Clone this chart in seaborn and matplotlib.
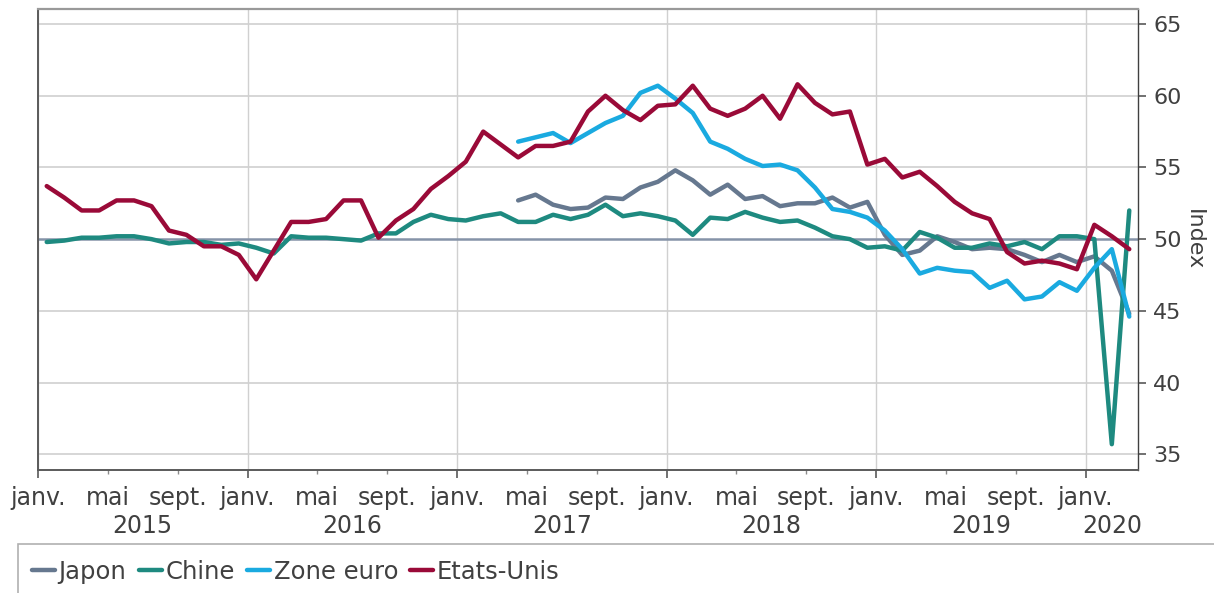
import numpy as np
import pandas as pd
import matplotlib
matplotlib.use("Agg")
import matplotlib.pyplot as plt
import seaborn as sns
from matplotlib.patches import Rectangle

# ---------------- data (monthly, Jan 2015 .. Mar 2020) ----------------
n_months = 63

etats_unis = [53.7, 52.9, 52.0, 52.0, 52.7, 52.7, 52.3, 50.6, 50.3, 49.5, 49.5, 48.9,
              47.2, 49.2, 51.2, 51.2, 51.4, 52.7, 52.7, 50.1, 51.3, 52.1, 53.5, 54.4,
              55.4, 57.5, 56.6, 55.7, 56.5, 56.5, 56.8, 58.9, 60.0, 59.0, 58.3, 59.3,
              59.4, 60.7, 59.1, 58.6, 59.1, 60.0, 58.4, 60.8, 59.5, 58.7, 58.9, 55.2,
              55.6, 54.3, 54.7, 53.7, 52.6, 51.8, 51.4, 49.1, 48.3, 48.5, 48.3, 47.9,
              51.0, 50.2, 49.3]

chine = [49.8, 49.9, 50.1, 50.1, 50.2, 50.2, 50.0, 49.7, 49.8, 49.8, 49.6, 49.7,
         49.4, 49.0, 50.2, 50.1, 50.1, 50.0, 49.9, 50.4, 50.4, 51.2, 51.7, 51.4,
         51.3, 51.6, 51.8, 51.2, 51.2, 51.7, 51.4, 51.7, 52.4, 51.6, 51.8, 51.6,
         51.3, 50.3, 51.5, 51.4, 51.9, 51.5, 51.2, 51.3, 50.8, 50.2, 50.0, 49.4,
         49.5, 49.2, 50.5, 50.1, 49.4, 49.4, 49.7, 49.5, 49.8, 49.3, 50.2, 50.2,
         50.0, 35.7, 52.0]

# Japon and Zone euro start in April 2017 (month index 27)
japon = [np.nan] * 27 + [
    52.7, 53.1, 52.4, 52.1, 52.2, 52.9, 52.8, 53.6, 54.0,
    54.8, 54.1, 53.1, 53.8, 52.8, 53.0, 52.3, 52.5, 52.5, 52.9, 52.2, 52.6,
    50.3, 48.9, 49.2, 50.2, 49.8, 49.3, 49.4, 49.3, 48.9, 48.4, 48.9, 48.4,
    48.8, 47.8, 44.8]

zone_euro = [np.nan] * 27 + [
    56.8, 57.1, 57.4, 56.7, 57.4, 58.1, 58.6, 60.2, 60.7,
    59.8, 58.8, 56.8, 56.3, 55.6, 55.1, 55.2, 54.8, 53.6, 52.1, 51.9, 51.5,
    50.6, 49.3, 47.6, 48.0, 47.8, 47.7, 46.6, 47.1, 45.8, 46.0, 47.0, 46.4,
    48.0, 49.3, 44.6]

series_names = ["Japon", "Chine", "Zone euro", "Etats-Unis"]
series_values = [japon, chine, zone_euro, etats_unis]
series_colors = ["#66788F", "#1E8A80", "#1AAAE0", "#9A0A38"]
series_widths = [2.7, 2.7, 1.9, 1.9]

year_labels = ["2015", "2016", "2017", "2018", "2019", "2020"]
month_tick_labels = ["janv.", "mai", "sept."]
y_ticks = [35, 40, 45, 50, 55, 60, 65]

# ---------------- build dataframe ----------------
x_pos = np.arange(n_months) + 0.5
df = pd.DataFrame({"x": x_pos})
for name, vals in zip(series_names, series_values):
    df[name] = vals

# ---------------- figure ----------------
sns.set_theme(style="white")
plt.rcParams["font.family"] = ["DejaVu Sans"]
text_color = "#404040"

fig = plt.figure(figsize=(12.14, 5.93), dpi=100)
W, H = 1214, 593
ax = fig.add_axes([38 / W, 1 - 470 / H, 1100 / W, 461 / H])

# grid
for yv in y_ticks:
    if yv != 50:
        ax.axhline(yv, color="#d6d6d6", lw=1.4, zorder=0)
for xv in range(0, 61, 12):
    ax.axvline(xv, color="#d0d0d0", lw=1.0, zorder=0)
ax.axhline(50, color="#8593A8", lw=1.8, zorder=1)

for i, (name, col, lw) in enumerate(zip(series_names, series_colors, series_widths)):
    sns.lineplot(data=df, x="x", y=name, color=col, linewidth=lw, ax=ax,
                 label=name, zorder=3 + i, estimator=None)

ax.set_xlim(0, 63)
ax.set_ylim(33.9, 66.05)

# x ticks
major = list(range(0, 61, 12))
minor = [m for m in range(0, 61, 4) if m % 12 != 0]
ax.set_xticks(major, ["janv."] * len(major))
ax.set_xticks(minor, [month_tick_labels[(m % 12) // 4] for m in minor], minor=True)
ax.tick_params(axis="x", which="major", length=6, width=1.2, color="#595959",
               labelsize=17, labelcolor=text_color, pad=5.5, bottom=True)
ax.tick_params(axis="x", which="minor", length=3, width=1.0, color="#8a8a8a",
               labelsize=17, labelcolor=text_color, pad=8.5, bottom=True)
ax.set_xlabel("")

# year labels
for k, yl in enumerate(year_labels):
    if k < 5:
        xc = 12 * k + 6
    else:
        xc = (60 + 63) / 2
    ax.annotate(yl, xy=(xc, 0), xycoords=("data", "axes fraction"),
                xytext=(0, -40.5), textcoords="offset points",
                ha="center", va="center", fontsize=17, color=text_color,
                annotation_clip=False)

# y axis on right
ax.yaxis.tick_right()
ax.yaxis.set_label_position("right")
ax.set_yticks(y_ticks)
ax.tick_params(axis="y", which="major", length=6, width=1.2, color="#595959",
               labelsize=16, labelcolor=text_color, pad=5, right=True, left=False)
ax.set_ylabel("Index", rotation=270, fontsize=16, color=text_color, labelpad=16)

# spines
for s in ["left", "bottom", "right", "top"]:
    ax.spines[s].set_visible(True)
ax.spines["left"].set_color("#5a5a5a")
ax.spines["left"].set_linewidth(1.4)
ax.spines["bottom"].set_color("#5a5a5a")
ax.spines["bottom"].set_linewidth(1.4)
ax.spines["right"].set_color("#404040")
ax.spines["right"].set_linewidth(1.0)
ax.spines["top"].set_color("#999999")
ax.spines["top"].set_linewidth(1.6)

# legend
ax.get_legend().remove()
handles, labels = ax.get_legend_handles_labels()
for h in handles:
    h.set_linewidth(3.2)
leg = fig.legend(handles, labels, loc="center left",
                 bbox_to_anchor=(32 / W, 1 - 572 / H), ncol=4, frameon=False,
                 fontsize=17.5, handlelength=0.95, handletextpad=0.15,
                 columnspacing=0.5, labelcolor=text_color, borderaxespad=0,
                 borderpad=0)

# legend box
fig.patches.append(Rectangle((18 / W, -0.1), 1.2, (1 - 544 / H) + 0.1,
                             transform=fig.transFigure, fill=False,
                             edgecolor="#b0b0b0", linewidth=1.2))

fig.savefig("out.png", dpi=100)
